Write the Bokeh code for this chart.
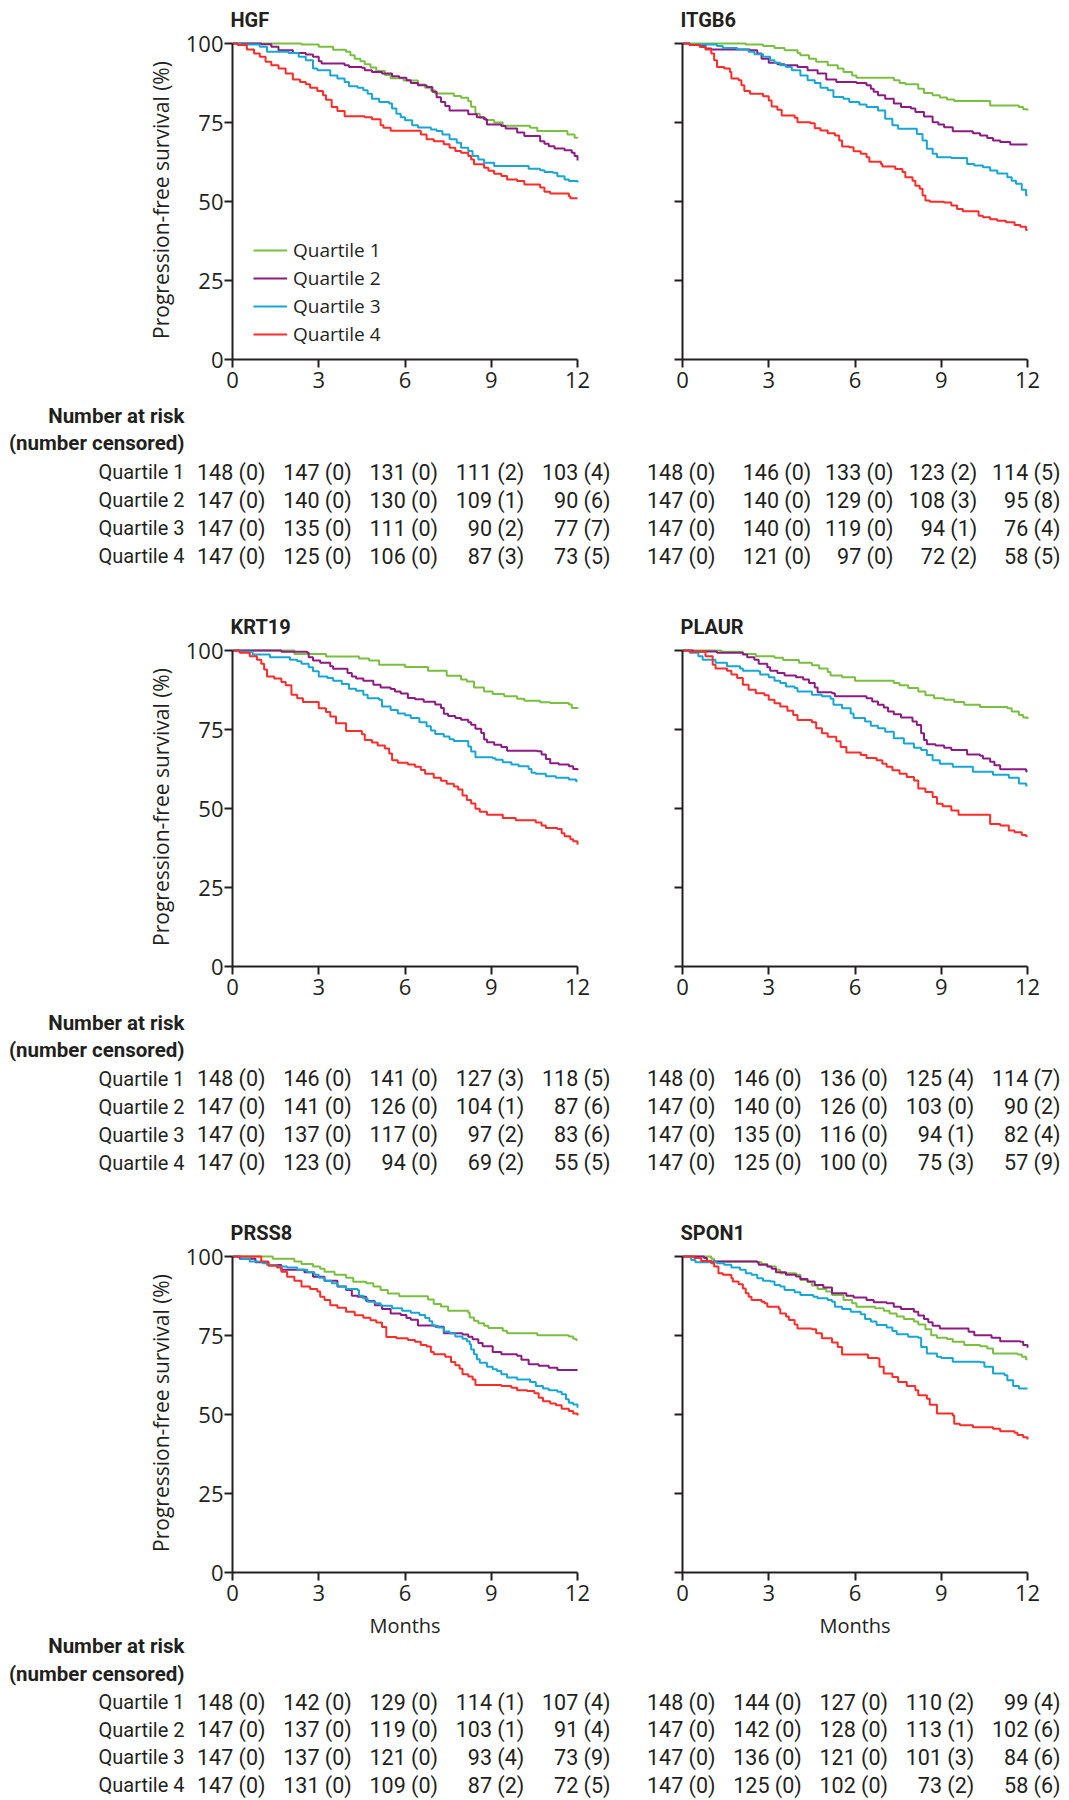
from bokeh.plotting import figure
from bokeh.models import Range1d, FixedTicker, ColumnDataSource, Legend, LegendItem
from bokeh.layouts import column, row
from bokeh.embed import file_html
from bokeh.resources import INLINE
from bokeh.core.properties import value

# ---------------- data ----------------
MONTH_TICKS = [0, 3, 6, 9, 12]
PFS_TICKS = [0, 25, 50, 75, 100]
QUARTILES = ["Quartile 1", "Quartile 2", "Quartile 3", "Quartile 4"]
COLORS = ["#7bbf42", "#8c1c82", "#18a6d5", "#fb2c2a"]

# Kaplan-Meier curves: (months, progression-free survival %)
HGF_Q1 = [(0,100),(2.4,99.7),(3.0,99),(3.5,98),(3.95,97.4),(4.1,96.3),(4.25,95.2),(4.45,94.4),(4.6,93.4),(4.8,92.4),(5.0,91.3),(5.3,90),(5.5,89),(5.95,88.3),(6.45,87),(6.7,86),(6.9,85.2),(7.05,84.2),(7.7,83.4),(7.95,82.8),(8.2,81.7),(8.3,80),(8.45,77.8),(8.6,76.5),(8.8,75.8),(9.1,75),(9.4,74),(10.35,73.3),(10.6,72.3),(11.65,71.2),(11.9,70.2),(12,70)]
HGF_Q2 = [(0,100),(1.0,99.8),(1.35,99),(1.6,97.9),(2.1,97),(2.55,96.5),(2.8,95.8),(3.0,94.4),(3.1,93.7),(3.9,93.1),(4.05,92.6),(4.5,92.3),(4.6,91.5),(4.85,91),(5.2,90.5),(5.55,89.6),(5.8,89.2),(6.05,88.4),(6.2,87.5),(6.45,86.8),(6.75,86.2),(6.95,84.7),(7.1,83),(7.25,81.5),(7.4,80.2),(7.55,78.8),(8.2,77.6),(8.5,76.7),(8.75,76),(8.85,74.4),(9.35,73.9),(9.5,73.1),(9.9,71.8),(10.15,70.7),(10.7,69.1),(10.85,68.3),(11.0,67.5),(11.2,66.8),(11.55,66.2),(11.8,65.4),(11.9,64.4),(12,63)]
HGF_Q3 = [(0,100),(0.3,99.7),(0.95,99),(1.2,97.4),(1.95,97),(2.3,95.8),(2.55,94.7),(2.8,92.1),(2.95,91.5),(3.4,89.9),(3.65,88.9),(3.9,87.8),(4.05,86.5),(4.35,86),(4.55,85.2),(4.7,84.1),(4.85,82.5),(5.1,81.5),(5.45,81),(5.55,79.4),(5.7,77.8),(5.85,76.7),(6.0,75.7),(6.25,74.1),(6.45,73.4),(6.9,72.8),(7.1,72.3),(7.3,71.2),(7.55,69.7),(7.8,68.6),(7.95,67),(8.2,66),(8.35,64.4),(8.55,63.3),(8.75,62.3),(9.1,61.2),(10.3,60.4),(10.7,59.9),(10.85,59.3),(11.15,59.1),(11.3,58),(11.55,57),(11.7,56.5),(12,56)]
HGF_Q4 = [(0,100),(0.18,99.5),(0.5,98.1),(0.75,96.8),(0.95,95.8),(1.15,94.2),(1.35,93.1),(1.6,92.1),(1.85,90.5),(2.1,88.6),(2.35,87.8),(2.55,87.1),(2.7,86),(2.95,85),(3.15,83.6),(3.25,82.2),(3.45,79.9),(3.65,78.6),(3.9,77),(4.6,76.7),(4.85,76),(5.15,74.1),(5.25,73.3),(5.5,72.4),(6.55,71.2),(6.75,69.7),(7.0,69.1),(7.35,68.1),(7.55,67),(7.75,66),(7.95,65.4),(8.2,64.4),(8.3,63.3),(8.4,61.8),(8.75,60.7),(8.9,59.7),(9.1,58.8),(9.35,58.1),(9.55,57),(9.9,56.5),(10.15,55.4),(10.7,54.4),(10.85,53.1),(11.05,52.5),(11.7,51.7),(11.75,51),(12,51)]

ITGB6_Q1 = [(0,100),(2.2,99.7),(2.8,99.2),(3.2,98.6),(3.55,97.9),(4.0,97),(4.1,96.3),(4.4,95.2),(4.65,94.2),(5.05,93.1),(5.4,92.1),(5.6,91),(5.9,89.9),(6.05,89.2),(7.35,88.4),(7.55,87.5),(7.75,87.1),(8.2,85.7),(8.4,84.3),(8.7,83.6),(8.95,82.9),(9.2,82.3),(9.45,81.8),(10.7,80.4),(11.7,79.9),(11.85,79.2),(12,78.8)]
ITGB6_Q2 = [(0,100),(0.25,99.5),(0.8,98.4),(1.0,98.1),(2.35,97.9),(2.6,96.8),(2.75,95.2),(3.0,93.9),(3.3,93.4),(3.55,93.1),(4.0,92.6),(4.35,91.5),(4.7,90.5),(5.0,88.6),(5.35,87.8),(6.05,87.5),(6.4,86.8),(6.55,85.7),(6.65,84.7),(6.8,83.6),(7.05,82.5),(7.35,81),(7.6,79.9),(7.95,79.4),(8.1,78.3),(8.4,76.9),(8.7,75.1),(8.9,74.4),(9.1,73.5),(9.4,72.2),(10.1,71.6),(10.35,70.9),(10.6,70.1),(10.8,69.3),(11.05,68.8),(11.4,68),(12,68)]
ITGB6_Q3 = [(0,100),(0.25,99.7),(1.2,99.2),(1.4,98.6),(1.9,98.1),(2.3,97.4),(2.5,96.6),(2.8,95.8),(3.05,94.7),(3.2,93.9),(3.4,93.1),(3.6,92.6),(3.8,91.5),(4.1,89.9),(4.35,88.4),(4.6,87.5),(4.8,86),(5.05,85.2),(5.25,83.1),(5.6,82.5),(5.8,81.5),(6.15,80.7),(6.4,79.9),(6.8,78.8),(7.05,76.2),(7.3,74.1),(7.5,73),(8.15,71.4),(8.35,69.3),(8.5,66.7),(8.7,65.1),(8.85,64),(9.35,63.8),(9.9,61.9),(10.15,61.4),(10.45,60.8),(10.7,59.8),(10.95,58.9),(11.3,57.7),(11.45,56.6),(11.6,55.6),(11.8,53.7),(11.95,52),(12,52)]
ITGB6_Q4 = [(0,100),(0.25,99.5),(0.6,98.9),(0.8,98.1),(1.0,96.8),(1.1,94.7),(1.2,92.6),(1.45,92.1),(1.65,91),(1.7,88.9),(1.95,88.4),(2.05,86.8),(2.15,85),(2.35,84.1),(2.8,83.3),(3.0,82),(3.1,80.1),(3.3,79),(3.45,77.2),(3.9,76.5),(4.0,75.1),(4.45,74.8),(4.6,73.2),(4.8,72.5),(5.05,71.6),(5.3,70.9),(5.45,69.3),(5.55,67.4),(5.8,67.2),(5.95,65.9),(6.2,65.1),(6.4,64),(6.5,62.6),(6.9,61.9),(6.95,61.1),(7.4,60.3),(7.65,59.3),(7.75,57.7),(8.0,56.6),(8.1,55),(8.25,54),(8.35,51.9),(8.45,50.3),(8.6,49.9),(9.1,49.7),(9.35,48.7),(9.55,47.6),(9.75,46.9),(10.3,45.5),(10.45,45),(10.7,44.4),(10.95,43.9),(11.25,43.4),(11.55,42.6),(11.75,42),(11.95,41),(12,41)]

KRT19_Q1 = [(0,100),(2.15,98.9),(3.25,98.1),(4.4,97.5),(4.75,96.8),(5.1,95.5),(6.0,94.8),(6.8,93.6),(7.45,92),(7.95,90.8),(8.15,90.2),(8.4,88.3),(8.75,87),(9.05,86.2),(9.45,85.5),(9.9,84.7),(10.15,84.1),(10.7,83.6),(11.05,83.4),(11.7,82.9),(11.8,81.8),(12,81.5)]
KRT19_Q2 = [(0,100),(1.7,99.6),(2.6,99.3),(2.65,97.9),(2.8,96.8),(3.05,96.1),(3.4,95),(3.5,94.2),(4.0,92.9),(4.15,91.8),(4.3,91.1),(4.55,90.4),(4.9,89.2),(5.15,88.3),(5.5,87.8),(5.65,87),(5.85,86.4),(6.1,85),(6.35,84.6),(6.65,83.8),(7.05,82.9),(7.25,81.8),(7.35,80),(7.5,79.3),(7.75,78.6),(7.95,78.1),(8.2,77.3),(8.3,76.5),(8.45,75.2),(8.65,73.9),(8.75,71.8),(8.85,71),(9.1,70.2),(9.35,69.5),(9.55,68.3),(10.6,68.1),(10.75,67.1),(10.9,65.7),(11.05,64.3),(11.35,63.9),(11.7,63.4),(11.85,62.5),(12,62.1)]
KRT19_Q3 = [(0,100),(0.25,99.6),(0.7,98.7),(1.3,97.9),(2.0,97.1),(2.25,96.6),(2.4,95.8),(2.65,94.7),(2.8,93.4),(3.0,91.8),(3.3,91.3),(3.5,90.4),(3.8,89.4),(4.05,87.9),(4.3,87.3),(4.55,86),(4.7,84.9),(5.1,84.4),(5.2,82.3),(5.5,81.2),(5.75,80.1),(6.0,79.5),(6.2,78.6),(6.5,77.3),(6.75,76),(6.9,74.7),(7.05,73.6),(7.35,72.8),(7.55,71.9),(7.7,71.4),(8.2,69.6),(8.3,68),(8.45,66.2),(9.05,65.9),(9.15,65.4),(9.4,64.6),(9.7,63.9),(9.95,63.4),(10.3,62.5),(10.4,61.3),(10.55,61),(10.9,60.2),(11.25,59.7),(11.7,59.2),(11.95,58.6),(12,58.6)]
KRT19_Q4 = [(0,100),(0.25,99.3),(0.6,98.2),(0.85,97.1),(1.0,95.8),(1.1,94),(1.2,91.8),(1.45,91.1),(1.7,90),(1.85,89),(2.05,86),(2.25,84.9),(2.45,83.7),(3.0,81.7),(3.25,80.5),(3.4,79.1),(3.6,77),(3.95,74.5),(4.5,73.5),(4.6,71.7),(4.85,70.9),(5.05,69.9),(5.3,69),(5.45,67.4),(5.55,65.3),(5.75,64.5),(6.1,63.9),(6.35,63.2),(6.55,62.2),(6.7,61),(7.0,59.7),(7.25,58.8),(7.45,57.8),(7.7,57),(7.85,56),(8.0,54.1),(8.15,52.7),(8.3,51.6),(8.45,49.9),(8.6,49),(8.85,48),(9.4,47),(9.85,46.3),(10.55,45.6),(10.75,44.6),(10.9,43.8),(11.3,43.5),(11.45,42.2),(11.55,41.2),(11.75,40.3),(11.85,39.6),(12,38.5)]

PLAUR_Q1 = [(0,100),(1.35,99.6),(2.1,98.9),(2.55,98.2),(3.2,97.7),(3.5,97),(4.05,96.1),(4.5,95.3),(4.75,94.3),(5.05,93.2),(5.15,92.1),(5.55,91.5),(6.0,90.4),(7.35,89.7),(7.55,89),(7.85,88.1),(8.2,87),(8.45,85.8),(8.75,84.9),(9.1,84.4),(9.45,83.7),(9.8,82.8),(10.35,82.1),(11.3,81.7),(11.45,80.7),(11.7,79.6),(11.85,78.8),(12,78.3)]
PLAUR_Q2 = [(0,100),(0.37,99.7),(1.2,99.3),(2.1,98.7),(2.25,97.9),(2.5,97.1),(2.65,95.8),(2.95,94.7),(3.05,93.6),(3.3,92.9),(3.55,92.1),(3.95,91.5),(4.2,90.8),(4.4,89.7),(4.6,88.3),(4.7,86.8),(5.2,86.5),(5.3,85.5),(6.4,84.9),(6.6,83.9),(6.8,82.8),(7.0,82),(7.15,80.7),(7.35,79.8),(7.6,78.8),(8.0,77.5),(8.15,76.4),(8.3,73.8),(8.4,71.7),(8.5,70.3),(8.8,69.9),(9.1,69.2),(9.35,68.5),(9.9,67.1),(10.35,66.7),(10.45,65.8),(10.7,64.8),(10.85,63.7),(11.05,62.4),(11.95,61.8),(12,61.8)]
PLAUR_Q3 = [(0,100),(0.25,99.3),(0.55,98.2),(0.7,97.1),(1.15,96.1),(1.55,95),(2.0,94.3),(2.1,93.6),(2.65,93.4),(2.7,92.4),(3.0,91.5),(3.2,90.4),(3.4,89.7),(3.6,88.6),(3.9,88.1),(4.0,87),(4.5,86),(4.85,85.5),(5.15,84.7),(5.25,82.8),(5.55,81.7),(5.85,80.1),(5.95,78.6),(6.35,77.5),(6.55,76.2),(6.8,75.4),(7.05,74.3),(7.35,72.2),(7.7,70.6),(8.05,69.2),(8.3,68.5),(8.5,66.9),(8.7,65.3),(8.95,64.2),(9.4,63.2),(10.1,61.6),(10.8,60.7),(11.35,59.7),(11.7,57.9),(11.95,57.3),(12,57.3)]
PLAUR_Q4 = [(0,100),(0.25,99.6),(0.8,98.2),(1.05,95.5),(1.15,94.3),(1.55,93.6),(1.7,92.4),(1.9,91.3),(2.1,89.2),(2.3,87.6),(2.55,86.5),(2.85,85.8),(3.0,84.4),(3.2,83.3),(3.4,82.3),(3.65,80.9),(3.85,79.6),(4.0,78),(4.5,77.3),(4.65,75.4),(4.85,73.8),(5.05,72.7),(5.35,71.3),(5.5,69.5),(5.7,67.7),(6.2,66.9),(6.4,66),(6.75,65.3),(6.95,64.2),(7.1,63.2),(7.3,62.1),(7.55,61),(7.8,60),(8.05,58.9),(8.2,56.3),(8.45,55.2),(8.7,53.6),(8.85,51.5),(9.05,50.7),(9.35,49.4),(9.6,48),(10.7,45.1),(11.05,44.6),(11.35,43),(11.55,42.5),(11.8,41.6),(11.95,41.2),(12,41.2)]

PRSS8_Q1 = [(0,100),(1.4,99.3),(2.15,98.4),(2.4,97.6),(2.8,96.8),(3.05,96.1),(3.2,95.2),(3.55,94.2),(3.95,93.3),(4.2,92),(4.65,91.5),(4.9,90.5),(5.15,89.4),(5.4,88.3),(5.8,87.4),(6.8,86.4),(7.0,85),(7.25,84.2),(7.5,82.8),(8.2,82.2),(8.25,80.7),(8.4,79.7),(8.55,78.9),(8.75,78.1),(8.9,77.4),(9.4,76.5),(9.55,75.7),(10.6,75.1),(11.7,74.7),(11.85,74),(11.95,73.6),(12,73.6)]
PRSS8_Q2 = [(0,100),(0.25,99.3),(0.8,98.2),(1.25,97.3),(1.7,95.8),(2.5,95),(2.8,93.6),(3.2,92.3),(3.65,90.5),(3.95,89.4),(4.15,87.6),(4.35,87.3),(4.65,85.9),(4.95,84.6),(5.2,83.4),(5.5,82),(5.85,81.5),(6.05,80.5),(6.2,80),(6.45,78.2),(7.05,77.8),(7.35,75.7),(8.0,75.3),(8.2,74.6),(8.35,73.8),(8.55,72.6),(8.7,71.6),(9.05,69.8),(9.35,69.1),(9.9,68.6),(10.05,67.3),(10.3,65.9),(10.65,65.4),(11.0,64.8),(11.3,64.1),(12,64.1)]
PRSS8_Q3 = [(0,100),(0.3,99.3),(0.6,98.4),(1.05,97.9),(1.2,97.3),(1.55,96.8),(1.9,96.5),(2.25,95.8),(2.6,95),(2.85,94.2),(3.0,93.3),(3.2,92.3),(3.45,91.5),(3.65,90.5),(3.95,89.7),(4.35,89.4),(4.4,87.6),(4.55,86.7),(4.7,85.7),(4.95,85.2),(5.15,84.4),(5.55,83.6),(5.9,82.8),(6.2,82.2),(6.5,81.5),(6.7,80.5),(6.85,79.5),(6.95,78.1),(7.15,77.5),(7.35,76.3),(7.55,75.7),(7.75,74.7),(8.0,74),(8.15,73.2),(8.25,72.2),(8.3,70.6),(8.4,69.1),(8.5,67.5),(8.6,66.4),(8.85,65.1),(9.05,64.3),(9.2,63.8),(9.35,62.7),(9.55,61.7),(9.9,61.1),(10.35,60.3),(10.55,59),(10.8,58.2),(11.0,57.7),(11.3,57.2),(11.45,56.4),(11.6,54.8),(11.7,53.7),(11.85,53.2),(12,52.1)]
PRSS8_Q4 = [(0,100),(1.0,98.4),(1.25,97.1),(1.55,96.5),(1.7,95.2),(1.9,93.6),(2.15,92.3),(2.4,90.5),(2.7,89.7),(2.95,88.9),(3.05,87.3),(3.2,86.2),(3.4,84.6),(3.65,83.8),(3.95,82.5),(4.25,81.4),(4.55,80.6),(4.8,79.8),(5.0,79.1),(5.2,77.7),(5.35,74.5),(5.7,74.1),(6.1,73.6),(6.35,73),(6.55,72),(6.75,71.5),(6.9,69.8),(7.0,69.1),(7.4,68.3),(7.6,66.6),(7.75,65.6),(7.9,64.5),(8.0,62.7),(8.2,62),(8.35,61.1),(8.45,59.3),(9.35,59),(9.7,58.5),(9.9,57.7),(10.25,57.4),(10.5,56.7),(10.65,55.3),(10.8,54.2),(11.05,53.5),(11.25,52.9),(11.45,51.8),(11.7,51.1),(11.85,50.3),(12,49.7)]

SPON1_Q1 = [(0,100),(1.0,99.3),(1.1,98.4),(2.6,98.2),(2.75,97.6),(2.95,96.8),(3.25,95.8),(3.4,94.7),(3.95,94.2),(4.1,92.6),(4.35,91.9),(4.5,90.8),(4.7,89.7),(5.0,88.9),(5.2,87.8),(5.6,86.2),(5.9,85.2),(6.05,84.1),(6.7,83.6),(7.0,82.8),(7.2,82),(7.45,81),(7.7,80.2),(8.05,79.4),(8.2,78.5),(8.45,77),(8.65,75.1),(8.85,74.3),(9.2,73.9),(9.4,73),(9.8,72),(10.35,71.6),(10.6,70.9),(10.8,69.3),(11.65,69),(11.8,68.3),(11.95,67.5),(12,67.5)]
SPON1_Q2 = [(0,100),(0.75,99.5),(0.85,98.4),(2.6,98.2),(2.65,97.4),(2.95,96.8),(3.1,96.1),(3.25,95),(3.6,94.2),(3.95,93.7),(4.1,92.9),(4.35,92.1),(4.6,91),(4.9,90.2),(5.2,88.4),(5.7,87.6),(5.95,87),(6.4,86.2),(6.65,85.5),(7.1,85.2),(7.35,84.1),(7.6,83.4),(8.05,82.5),(8.2,81.3),(8.4,80.2),(8.55,79.2),(8.7,78.1),(8.95,77.2),(9.95,76.2),(10.15,75.1),(10.75,74.3),(11.05,73.2),(11.75,73),(11.85,72),(12,71.1)]
SPON1_Q3 = [(0,100),(0.3,98.9),(0.45,98.2),(1.2,97.9),(1.45,97.4),(1.7,96.5),(2.0,95.8),(2.2,94.7),(2.4,94.2),(2.6,93.1),(2.8,92.3),(3.05,92.1),(3.2,91),(3.4,90.5),(3.55,89.4),(3.9,88.7),(4.1,87.8),(4.55,87.3),(4.7,86.8),(5.05,86.2),(5.2,85.7),(5.3,84.1),(5.55,83.4),(5.85,82.5),(6.2,81.7),(6.35,80.2),(6.55,79.4),(6.75,78.3),(7.1,77.5),(7.3,76.4),(7.45,75.4),(7.85,74.6),(8.2,74.3),(8.3,71.4),(8.5,69.3),(8.85,68.3),(9.0,67.9),(9.4,66.7),(10.35,66.5),(10.5,65.1),(10.8,63),(11.2,62.4),(11.3,60.8),(11.5,59),(11.7,58.2),(12,58.2)]
SPON1_Q4 = [(0,100),(0.4,99.5),(0.65,98.6),(1.0,97.9),(1.1,96.8),(1.25,94.7),(1.4,94.2),(1.7,93.1),(1.75,92.1),(1.95,91.2),(2.1,89.9),(2.2,88.4),(2.3,87.3),(2.4,86.2),(2.75,85.7),(2.85,85.2),(2.95,84.1),(3.35,83.4),(3.4,82),(3.6,81),(3.7,79.9),(3.9,78.5),(4.0,77.2),(4.5,77),(4.65,75.7),(4.85,74.1),(5.2,72.8),(5.4,71.4),(5.55,69),(6.45,67.9),(6.8,67.7),(6.85,65.1),(7.0,63),(7.3,61.9),(7.5,60.3),(7.8,59),(8.1,57.7),(8.2,56.1),(8.5,55),(8.6,53.1),(8.85,50.3),(9.4,49.7),(9.45,47.1),(9.65,46.6),(10.1,46),(10.8,45.5),(11.05,44.7),(11.55,44.2),(11.65,43.5),(11.85,42.8),(12,42.1)]

# Number at risk / number censored at 0, 3, 6, 9, 12 months (rows = quartiles)
HGF_AT_RISK = [[148, 147, 131, 111, 103], [147, 140, 130, 109, 90], [147, 135, 111, 90, 77], [147, 125, 106, 87, 73]]
HGF_CENSORED = [[0, 0, 0, 2, 4], [0, 0, 0, 1, 6], [0, 0, 0, 2, 7], [0, 0, 0, 3, 5]]
ITGB6_AT_RISK = [[148, 146, 133, 123, 114], [147, 140, 129, 108, 95], [147, 140, 119, 94, 76], [147, 121, 97, 72, 58]]
ITGB6_CENSORED = [[0, 0, 0, 2, 5], [0, 0, 0, 3, 8], [0, 0, 0, 1, 4], [0, 0, 0, 2, 5]]
KRT19_AT_RISK = [[148, 146, 141, 127, 118], [147, 141, 126, 104, 87], [147, 137, 117, 97, 83], [147, 123, 94, 69, 55]]
KRT19_CENSORED = [[0, 0, 0, 3, 5], [0, 0, 0, 1, 6], [0, 0, 0, 2, 6], [0, 0, 0, 2, 5]]
PLAUR_AT_RISK = [[148, 146, 136, 125, 114], [147, 140, 126, 103, 90], [147, 135, 116, 94, 82], [147, 125, 100, 75, 57]]
PLAUR_CENSORED = [[0, 0, 0, 4, 7], [0, 0, 0, 0, 2], [0, 0, 0, 1, 4], [0, 0, 0, 3, 9]]
PRSS8_AT_RISK = [[148, 142, 129, 114, 107], [147, 137, 119, 103, 91], [147, 137, 121, 93, 73], [147, 131, 109, 87, 72]]
PRSS8_CENSORED = [[0, 0, 0, 1, 4], [0, 0, 0, 1, 4], [0, 0, 0, 4, 9], [0, 0, 0, 2, 5]]
SPON1_AT_RISK = [[148, 144, 127, 110, 99], [147, 142, 128, 113, 102], [147, 136, 121, 101, 84], [147, 125, 102, 73, 58]]
SPON1_CENSORED = [[0, 0, 0, 2, 4], [0, 0, 0, 1, 6], [0, 0, 0, 3, 6], [0, 0, 0, 2, 6]]

PANELS = [
    ("HGF", [HGF_Q1, HGF_Q2, HGF_Q3, HGF_Q4], HGF_AT_RISK, HGF_CENSORED),
    ("ITGB6", [ITGB6_Q1, ITGB6_Q2, ITGB6_Q3, ITGB6_Q4], ITGB6_AT_RISK, ITGB6_CENSORED),
    ("KRT19", [KRT19_Q1, KRT19_Q2, KRT19_Q3, KRT19_Q4], KRT19_AT_RISK, KRT19_CENSORED),
    ("PLAUR", [PLAUR_Q1, PLAUR_Q2, PLAUR_Q3, PLAUR_Q4], PLAUR_AT_RISK, PLAUR_CENSORED),
    ("PRSS8", [PRSS8_Q1, PRSS8_Q2, PRSS8_Q3, PRSS8_Q4], PRSS8_AT_RISK, PRSS8_CENSORED),
    ("SPON1", [SPON1_Q1, SPON1_Q2, SPON1_Q3, SPON1_Q4], SPON1_AT_RISK, SPON1_CENSORED),
]
X_AXIS_TITLE = "Months"
Y_AXIS_TITLE = "Progression-free survival (%)"

# ---------------- layout / style ----------------
INK = "#231f20"
PPM = 345 / 12.0          # pixels per month
PPP = 3.16                # pixels per percentage point
FRAME_W, FRAME_H = 351, 319
X_END = FRAME_W / PPM
Y_END = FRAME_H / PPP
LEFT_W, RIGHT_W = 628, 441
L_BORDER = 232
R_BORDER = 54
TOP_BORDER = 39
BOTTOM_BORDER = 40
PLOT_H = TOP_BORDER + FRAME_H + BOTTOM_BORDER
ROW_TOTAL = [606, 605, 587]
TICK_FONT = "Open Sans"
TABLE_FONT = "Roboto"

# row-relative vertical positions of the risk table texts (pixels from row top)
HEAD_Y = [[414.5, 441.5], [414, 441.5], [431.4, 459]]
ROWS_Y = [[470.5, 498.5, 526.5, 554.5], [470, 498, 526, 554], [487.7, 515.2, 542.8, 570.5]]
MONTHS_Y = 410.5


def make_plot(name, curves, left, legend):
    if left:
        mbl, mbr = L_BORDER, LEFT_W - L_BORDER - FRAME_W
    else:
        mbl, mbr = R_BORDER, RIGHT_W - R_BORDER - FRAME_W
    p = figure(frame_width=FRAME_W, frame_height=FRAME_H,
               x_range=Range1d(0, X_END), y_range=Range1d(0, Y_END),
               min_border_left=mbl, min_border_right=mbr,
               min_border_top=TOP_BORDER, min_border_bottom=BOTTOM_BORDER,
               output_backend="svg", toolbar_location=None, title=name)
    p.title.text_font = TABLE_FONT
    p.title.text_font_size = "20px"
    p.title.text_font_style = "bold"
    p.title.text_color = INK
    p.title.align = "left"
    p.title.vertical_align = "top"
    p.title.offset = -2
    p.title.standoff = 14
    p.outline_line_color = None
    p.background_fill_color = "white"
    p.border_fill_color = "white"
    p.xgrid.visible = False
    p.ygrid.visible = False

    p.xaxis.ticker = FixedTicker(ticks=MONTH_TICKS)
    p.yaxis.ticker = FixedTicker(ticks=PFS_TICKS)
    p.xaxis.bounds = (0, 12)
    p.yaxis.bounds = (0, 100)
    for ax in (p.xaxis, p.yaxis):
        ax.axis_line_color = INK
        ax.axis_line_width = 2
        ax.major_tick_line_color = INK
        ax.major_tick_line_width = 2
        ax.major_tick_in = 0
        ax.major_tick_out = 8
        ax.minor_tick_line_color = None
        ax.major_label_text_font = TICK_FONT
        ax.major_label_text_font_size = "22px"
        ax.major_label_text_color = INK
        ax.axis_label_text_font = TICK_FONT
        ax.axis_label_text_font_size = "21px"
        ax.axis_label_text_font_style = "normal"
        ax.axis_label_text_color = INK
    p.xaxis.major_label_standoff = 4
    p.yaxis.major_label_standoff = 1
    if left:
        p.yaxis.axis_label = Y_AXIS_TITLE
        p.yaxis.axis_label_standoff = 8
    else:
        p.yaxis.major_label_text_color = None

    renderers = []
    for i, curve in enumerate(curves):
        t = [pt[0] for pt in curve]
        s = [pt[1] for pt in curve]
        r = p.step(t, s, mode="after", line_color=COLORS[i], line_width=2)
        renderers.append(r)
    if legend:
        lg = Legend(items=[LegendItem(label=QUARTILES[i], renderers=[renderers[i]]) for i in range(4)],
                    location=(21, 12))
        lg.border_line_color = None
        lg.background_fill_alpha = 0
        lg.padding = 0
        lg.margin = 0
        lg.spacing = 2
        lg.glyph_width = 34
        lg.glyph_height = 20
        lg.label_height = 20
        lg.label_standoff = 6
        lg.label_text_font = TICK_FONT
        lg.label_text_font_size = "19px"
        lg.label_text_color = INK
        lg.label_text_baseline = "middle"
        p.add_layout(lg)
    return p


def make_table(at_risk, censored, left, height, y_head, y_rows, col_shift, months_y):
    if left:
        width = LEFT_W
        xr = Range1d(-L_BORDER / PPM, (LEFT_W - L_BORDER) / PPM)
    else:
        width = RIGHT_W
        xr = Range1d(-R_BORDER / PPM, (RIGHT_W - R_BORDER) / PPM)
    t = figure(width=width, height=height, x_range=xr, y_range=Range1d(height, 0),
               min_border=0, x_axis_type=None, y_axis_type=None,
               output_backend="svg", toolbar_location=None)
    t.outline_line_color = None
    t.background_fill_color = "white"
    t.border_fill_color = "white"
    xs, ys, txt, xo = [], [], [], []
    for i in range(4):
        for j in range(5):
            xs.append(MONTH_TICKS[j])
            ys.append(y_rows[i])
            txt.append(f"{at_risk[i][j]} ({censored[i][j]})")
            xo.append(33 + col_shift[j])
    src = ColumnDataSource(dict(x=xs, y=ys, text=txt, xo=xo))
    t.text(x="x", y="y", text="text", x_offset="xo", source=src,
           text_align="right", text_baseline="middle",
           text_font=value(TABLE_FONT), text_font_size="21.5px", text_color=INK)
    if months_y is not None:
        # x-axis title of the panel above, centred on the middle of the month scale
        t.text(x=[6], y=[months_y], text=[X_AXIS_TITLE], text_align="center",
               text_baseline="middle", text_font=value(TICK_FONT),
               text_font_size="20px", text_color=INK)
    if left:
        lab = ColumnDataSource(dict(x=[0] * 4, y=y_rows, text=QUARTILES))
        t.text(x="x", y="y", text="text", x_offset=-48, source=lab,
               text_align="right", text_baseline="middle",
               text_font=value(TABLE_FONT), text_font_size="20px", text_color=INK)
        head = ColumnDataSource(dict(x=[0, 0], y=y_head, text=["Number at risk", "(number censored)"]))
        t.text(x="x", y="y", text="text", x_offset=-48, source=head,
               text_align="right", text_baseline="middle",
               text_font=value(TABLE_FONT), text_font_size="20.5px",
               text_font_style="bold", text_color=INK)
    return t


children = []
for k in range(3):
    last = (k == 2)
    table_h = ROW_TOTAL[k] - PLOT_H
    y_head = [v - PLOT_H for v in HEAD_Y[k]]
    y_rows = [v - PLOT_H for v in ROWS_Y[k]]
    months_y = (MONTHS_Y - PLOT_H) if last else None
    nameL, curvesL, arL, ceL = PANELS[2 * k]
    nameR, curvesR, arR, ceR = PANELS[2 * k + 1]
    pl = make_plot(nameL, curvesL, True, legend=(k == 0))
    pr = make_plot(nameR, curvesR, False, legend=False)
    shiftR = [0, 9.5, 5.5, 3, 0] if k == 0 else [0, 0, 0, 0, 0]
    tl = make_table(arL, ceL, True, table_h, y_head, y_rows, [0, 0, 0, 0, 0], months_y)
    tr = make_table(arR, ceR, False, table_h, y_head, y_rows, shiftR, months_y)
    children.append(row(pl, pr))
    children.append(row(tl, tr))

layout = column(*children)
open("out.html", "w").write(file_html(layout, INLINE, "Progression-free survival by biomarker quartile"))
